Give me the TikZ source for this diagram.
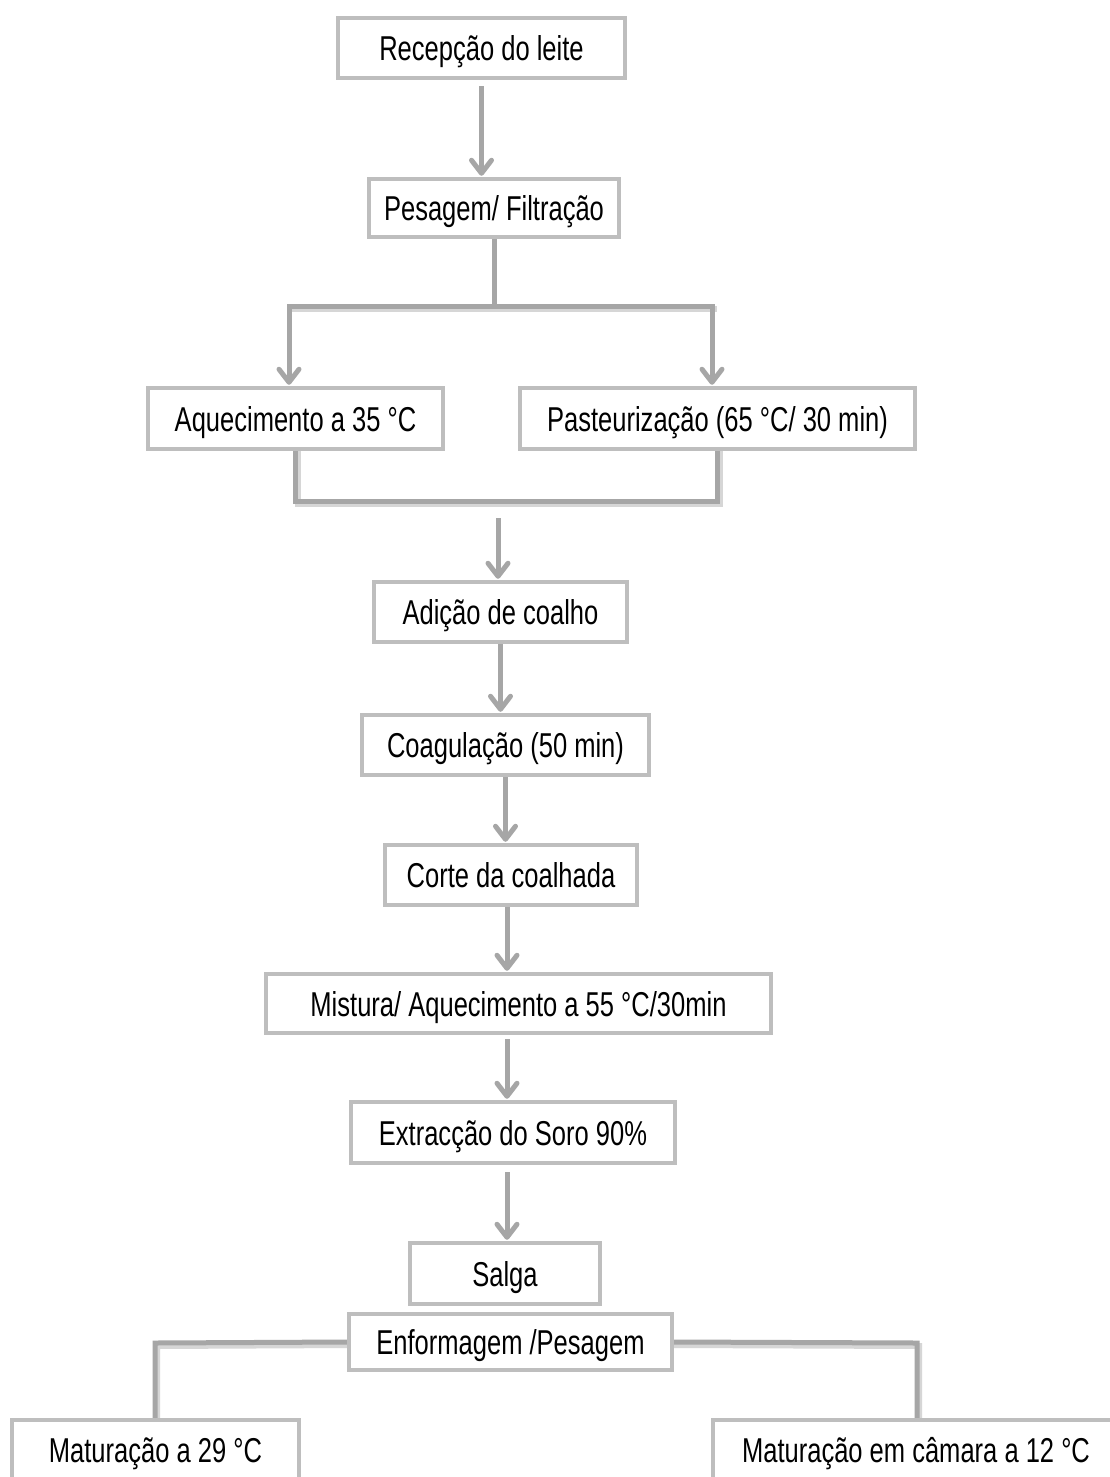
\documentclass[tikz,border=0pt]{standalone}
\usepackage{fontspec}
\setmainfont{Liberation Sans}[FakeStretch=0.74]
\usetikzlibrary{arrows.meta,backgrounds,calc}
\definecolor{linegray}{HTML}{A6A6A6}
\definecolor{boxgray}{HTML}{BEBEBE}
\definecolor{shadowgray}{HTML}{D6D6D6}
\begin{document}
\begin{tikzpicture}[x=1pt,y=-1pt,
  box/.style={draw=boxgray, line width=4.5pt, fill=white, inner sep=0pt,
    text height=25pt, text depth=0pt,
    font=\fontsize{34.5}{40}\selectfont, text=black},
  conn/.style={draw=linegray, line width=5pt, line cap=rect},
  arr/.style={draw=linegray, line width=5pt, shorten >=1pt,
    -{Straight Barb[length=13pt,width=20pt,round]}},
  shadowline/.style={draw=shadowgray, line width=6pt, line cap=rect},
]
\useasboundingbox (0,0) rectangle (1110,1477);

\node[box, minimum width=287pt, minimum height=60pt] (n1) at (481.5,48) {Recepção do leite};
\node[box, minimum width=250pt, minimum height=58pt] (n2) at (494,208) {Pesagem/ Filtração};
\node[box, minimum width=295pt, minimum height=61pt] (n3) at (295.5,418.5) {Aquecimento a 35 °C};
\node[box, minimum width=395pt, minimum height=61pt] (n4) at (717.5,418.5) {Pasteurização (65 °C/ 30 min)};
\node[box, minimum width=253pt, minimum height=60pt] (n5) at (500.5,612) {Adição de coalho};
\node[box, minimum width=287pt, minimum height=60pt] (n6) at (505.5,745) {Coagulação (50 min)};
\node[box, minimum width=252pt, minimum height=60pt] (n7) at (511,875) {Corte da coalhada};
\node[box, minimum width=505pt, minimum height=59pt] (n8) at (518.5,1003.5) {Mistura/ Aquecimento a 55 °C/30min};
\node[box, minimum width=324pt, minimum height=61pt] (n9) at (513,1132.5) {Extracção do Soro 90\%};
\node[box, minimum width=190pt, minimum height=61pt] (n10) at (505,1273.5) {Salga};
\node[box, minimum width=323pt, minimum height=56pt] (n11) at (510.5,1342) {Enformagem /Pesagem};
\node[box, minimum width=287pt, minimum height=60pt] (n12) at (155.5,1450) {Maturação a 29 °C};
\node[box, minimum width=406pt, minimum height=60pt] (n13) at (916,1450) {Maturação em câmara a 12 °C};

\coordinate (s) at (494,306);
\coordinate (sl) at (289,306);
\coordinate (sr) at (712,306);
\coordinate (mj) at (498,501);
\coordinate (col) at (507,0);
\coordinate (el) at (155,1343);
\coordinate (er) at (917,1343);

\begin{scope}[on background layer]
\fill[white] (0,0) rectangle (1110,1477);
% shadows
\draw[shadowline] ([shift={(2,3)}]sl) -- ([shift={(2,3)}]sr);
\draw[shadowline] ([shift={(2,3)}]n3.south) |- ([shift={(2,3)}]mj) -| ([shift={(2,3)}]n4.south);
\draw[shadowline] ([shift={(2,3)}]n11.west) -- ([shift={(2,3)}]el) -- ([shift={(2,3)}]el |- n12.north);
\draw[shadowline] ([shift={(2,3)}]n11.east) -- ([shift={(2,3)}]er) -- ([shift={(2,3)}]er |- n13.north);
% connectors
\draw[arr] ($(n1.south)+(0,6)$) -- (n1.south |- n2.north);
\draw[conn] (n2.south) -- (s);
\draw[conn] (sl) -- (sr);
\draw[arr] (sl) -- (sl |- n3.north);
\draw[arr] (sr) -- (sr |- n4.north);
\draw[conn] (n3.south) |- (mj) -| (n4.south);
\draw[arr] ($(mj)+(0,17)$) -- (mj |- n5.north);
\draw[arr] (n5.south) -- (n5.south |- n6.north);
\draw[arr] (n6.south) -- (n6.south |- n7.north);
\draw[arr] (n7.south -| col) -- (n8.north -| col);
\draw[arr] ($(n8.south -| col)+(0,4)$) -- (n9.north -| col);
\draw[arr] ($(n9.south -| col)+(0,7)$) -- (n10.north -| col);
\draw[conn] (n11.west) -- (el) -- (el |- n12.north);
\draw[conn] (n11.east) -- (er) -- (er |- n13.north);
\end{scope}
\end{tikzpicture}
\end{document}
